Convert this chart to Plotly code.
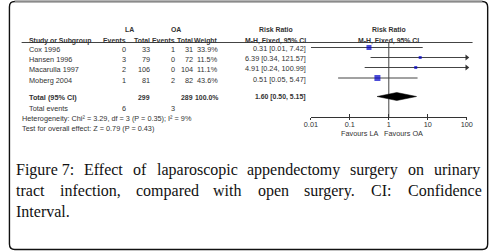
import plotly.graph_objects as go

# ---------------- data ----------------
studies = ["Cox 1996", "Hansen 1996", "Macarulla 1997", "Moberg 2004"]
la_events = [0, 3, 2, 1]
la_total = [33, 79, 106, 81]
oa_events = [1, 0, 0, 2]
oa_total = [31, 72, 104, 82]
weights = [33.9, 11.5, 11.1, 43.6]
rr = [0.31, 6.39, 4.91, 0.51]
rr_lo = [0.01, 0.34, 0.24, 0.05]
rr_hi = [7.42, 121.57, 100.99, 5.47]

total_la = 299
total_oa = 289
total_weight = 100.0
total_rr = 1.60
total_lo = 0.50
total_hi = 5.15
total_events_la = 6
total_events_oa = 3
heterogeneity = "Heterogeneity: Chi² = 3.29, df = 3 (P = 0.35); I² = 9%"
overall_effect = "Test for overall effect: Z = 0.79 (P = 0.43)"

axis_ticks = [0.01, 0.1, 1, 10, 100]
axis_labels = ["0.01", "0.1", "1", "10", "100"]
favours_left = "Favours LA"
favours_right = "Favours OA"

caption_lines = [
    ["Figure 7:", "Effect", "of", "laparoscopic", "appendectomy", "surgery", "on", "urinary"],
    ["tract", "infection,", "compared", "with", "open", "surgery.", "CI:", "Confidence"],
    ["Interval."],
]

# ---------------- layout / style ----------------
W, H = 500, 252
row_text_y = [49.5, 59.5, 69.8, 80]
row_mark_y = [47.5, 57.5, 67.5, 78]
total_text_y = 97.5
diamond_y = 96.5
axis_y = 117
square_sizes = [5, 3, 3, 6]
TXT = "#333333"
FONT = "Liberation Sans"
FS = 7.3
HFS = 6.9

CAP_FONT = "Liberation Serif"
CAP_FS = 16
CAP_LEFT, CAP_RIGHT = 8, 484
caption_y = [169.5, 190.5, 211]

# Times-compatible advance widths (1/1000 em) used to justify the caption
times_w = {' ': 250, 'a': 444, 'b': 500, 'c': 444, 'd': 500, 'e': 444, 'f': 333, 'g': 500,
           'h': 500, 'i': 278, 'j': 278, 'k': 500, 'l': 278, 'm': 778, 'n': 500, 'o': 500,
           'p': 500, 'q': 500, 'r': 333, 's': 389, 't': 278, 'u': 500, 'v': 500, 'w': 722,
           'x': 500, 'y': 500, 'z': 444, 'C': 667, 'E': 611, 'F': 556, 'I': 333, '7': 500,
           ':': 278, ',': 250, '.': 250}


def word_width(w):
    return sum(times_w.get(c, 500) for c in w) * CAP_FS / 1000.0


fig = go.Figure()

# forest CI lines
for i in range(len(studies)):
    hi = min(rr_hi[i], axis_ticks[-1])
    fig.add_trace(go.Scatter(
        x=[rr_lo[i], hi], y=[row_mark_y[i], row_mark_y[i]],
        xaxis="x2", yaxis="y", mode="lines",
        line=dict(color="#444444", width=1), hoverinfo="skip"))
    if rr_hi[i] > axis_ticks[-1]:
        fig.add_trace(go.Scatter(
            x=[axis_ticks[-1]], y=[row_mark_y[i]], xaxis="x2", yaxis="y",
            mode="markers", cliponaxis=False,
            marker=dict(symbol="triangle-right", size=5, color="#333333", line=dict(width=0)),
            hoverinfo="skip"))

# vertical line of no effect
fig.add_trace(go.Scatter(
    x=[1, 1], y=[42.5, axis_y], xaxis="x2", yaxis="y", mode="lines",
    line=dict(color="#444444", width=1), hoverinfo="skip", cliponaxis=False))

# study squares
fig.add_trace(go.Scatter(
    x=rr, y=row_mark_y, xaxis="x2", yaxis="y", mode="markers",
    marker=dict(symbol="square", size=square_sizes, color="#0000c8", line=dict(width=0)),
    hoverinfo="skip"))

# pooled diamond
fig.add_trace(go.Scatter(
    x=[total_lo, total_rr, total_hi, total_rr, total_lo],
    y=[diamond_y, diamond_y - 4, diamond_y, diamond_y + 4, diamond_y],
    xaxis="x2", yaxis="y", mode="lines", fill="toself",
    fillcolor="black", line=dict(color="black", width=0.5), hoverinfo="skip"))

# invisible trace so the upper tick half-axis is drawn
fig.add_trace(go.Scatter(x=[1], y=[axis_y], xaxis="x3", yaxis="y", mode="markers",
                         marker=dict(size=1, opacity=0), hoverinfo="skip"))

ann = []


def txt(x, y, s, anchor="left", bold=False, size=FS, color=TXT, family=FONT):
    ann.append(dict(
        x=x, y=y, xref="x", yref="y", text=("<b>%s</b>" % s) if bold else s,
        showarrow=False, xanchor=anchor, yanchor="middle", borderpad=0,
        font=dict(family=family, size=size, color=color)))


# headers
txt(126, 29, "LA", "center", True, HFS)
txt(173, 29, "OA", "center", True, HFS)
txt(276, 29, "Risk Ratio", "center", True, HFS)
txt(392, 29, "Risk Ratio", "center", True, HFS)
hy = 40.5
txt(22, hy, "Study or Subgroup", "left", True, HFS)
txt(123, hy, "Events", "right", True, HFS)
txt(148, hy, "Total", "right", True, HFS)
txt(173, hy, "Events", "right", True, HFS)
txt(192, hy, "Total", "right", True, HFS)
txt(218, hy, "Weight", "right", True, HFS)
txt(276, hy, "M-H, Fixed, 95% CI", "center", True, HFS)
txt(392, hy, "M-H, Fixed, 95% CI", "center", True, HFS)

# study rows
for i in range(len(studies)):
    y = row_text_y[i]
    txt(22, y, studies[i], "left")
    txt(123, y, str(la_events[i]), "right")
    txt(148, y, str(la_total[i]), "right")
    txt(173, y, str(oa_events[i]), "right")
    txt(192, y, str(oa_total[i]), "right")
    txt(218, y, "%.1f%%" % weights[i], "right")
    txt(308, y - 1, "%.2f [%.2f, %.2f]" % (rr[i], rr_lo[i], rr_hi[i]), "right")

# totals
txt(22, total_text_y, "Total (95% CI)", "left", True)
txt(148, total_text_y, str(total_la), "right", True, HFS)
txt(192, total_text_y, str(total_oa), "right", True, HFS)
txt(218, total_text_y, "%.1f%%" % total_weight, "right", True, HFS)
txt(308, total_text_y - 1, "%.2f [%.2f, %.2f]" % (total_rr, total_lo, total_hi), "right", True, HFS)
txt(22, 108, "Total events", "left")
txt(123, 108, str(total_events_la), "right")
txt(173, 108, str(total_events_oa), "right")
txt(14, 118, heterogeneity, "left")
txt(14, 128, overall_effect, "left")

# favours labels
txt(382, 133.5, favours_left, "right")
txt(386, 133.5, favours_right, "left")

# caption, justified like the reference (last line left aligned)
for li, words in enumerate(caption_lines):
    widths = [word_width(w) for w in words]
    if li < len(caption_lines) - 1 and len(words) > 1:
        gap = (CAP_RIGHT - CAP_LEFT - sum(widths)) / (len(words) - 1)
    else:
        gap = word_width(" ")
    x = CAP_LEFT
    for w, ww in zip(words, widths):
        txt(x, caption_y[li], w, "left", False, CAP_FS, "#111111", CAP_FONT)
        x += ww + gap

shapes = [
    # header underline
    dict(type="line", xref="x", yref="y", x0=15, x1=478, y0=42.5, y1=42.5,
         line=dict(color="#444444", width=1)),
    # frame
    dict(type="path", xref="x", yref="y",
         path="M 8,1.5 L 488,1.5 Q 493.5,1.5 493.5,7 L 493.5,244 Q 493.5,249.5 488,249.5 "
              "L 8,249.5 Q 2.5,249.5 2.5,244 L 2.5,7 Q 2.5,1.5 8,1.5 Z",
         line=dict(color="#111111", width=1.4)),
    dict(type="line", xref="x", yref="y", x0=8, x1=488, y0=1.5, y1=1.5,
         line=dict(color="#8a8a8a", width=1.4)),
]

axis_common = dict(type="log", range=[-2, 2], domain=[312 / W, 472 / W],
                   anchor="free", position=1 - axis_y / H,
                   showline=True, linecolor="#333333", linewidth=1,
                   tickcolor="#333333", tickwidth=1,
                   tickvals=axis_ticks, showgrid=False, zeroline=False, fixedrange=True)

fig.update_layout(
    width=W, height=H, margin=dict(l=0, r=0, t=0, b=0, pad=0),
    paper_bgcolor="white", plot_bgcolor="rgba(0,0,0,0)", showlegend=False,
    xaxis=dict(range=[0, W], visible=False, domain=[0, 1], fixedrange=True),
    yaxis=dict(range=[H, 0], visible=False, domain=[0, 1], fixedrange=True),
    xaxis2=dict(**axis_common, ticks="outside", ticklen=2,
                ticktext=axis_labels, ticklabelstandoff=-2,
                tickfont=dict(family=FONT, size=FS, color=TXT)),
    xaxis3=dict(**axis_common, ticks="inside", ticklen=3, showticklabels=False,
                overlaying="x2"),
    annotations=ann, shapes=shapes,
)

fig.write_html("out.html", config={"displayModeBar": False},
               post_script="document.body.style.margin='0px';")
